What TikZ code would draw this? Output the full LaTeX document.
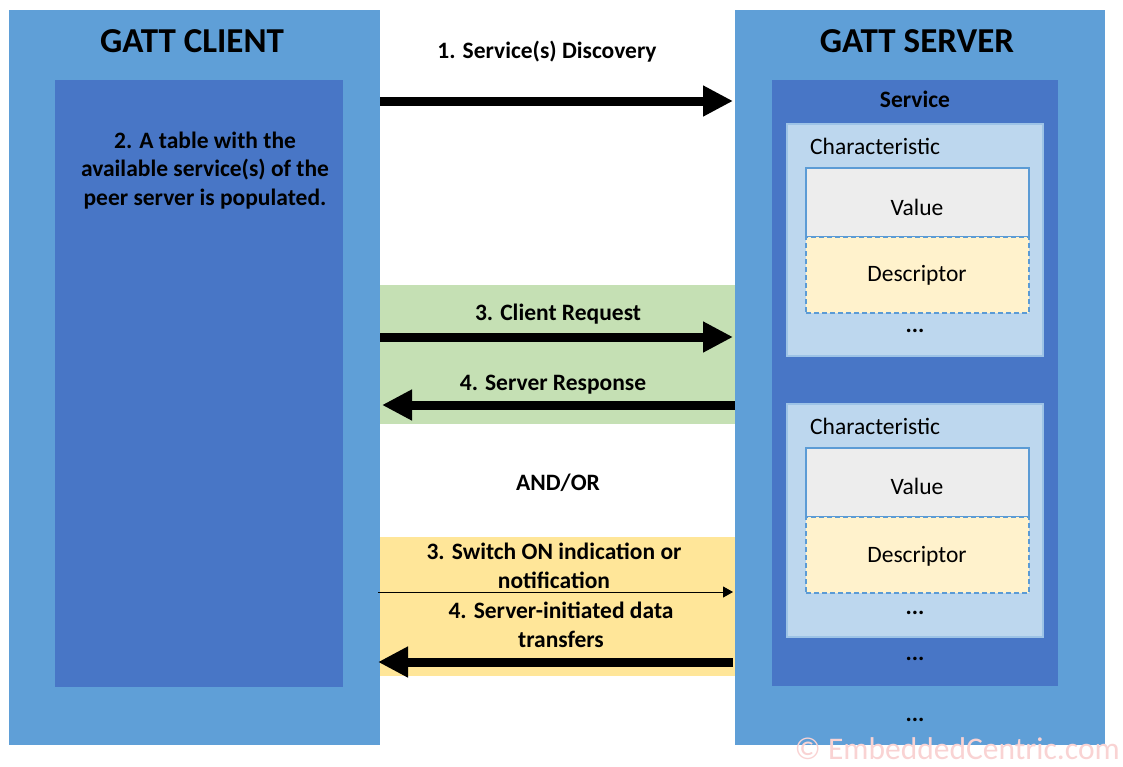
\documentclass[tikz,border=0pt]{standalone}
\usepackage{fontspec}
\setmainfont{Carlito}
\usetikzlibrary{arrows.meta}
\definecolor{outerblue}{HTML}{5F9FD7}
\definecolor{innerblue}{HTML}{4876C6}
\definecolor{charblue}{HTML}{BDD7EE}
\definecolor{charedge}{HTML}{9DC3E6}
\definecolor{valgray}{HTML}{EDEDED}
\definecolor{descyellow}{HTML}{FFF2CC}
\definecolor{edgeblue}{HTML}{5B9BD5}
\definecolor{bandgreen}{HTML}{C5E0B4}
\definecolor{bandyellow}{HTML}{FFE699}
\definecolor{wmpink}{HTML}{F9D3D3}
\tikzset{
  box/.style={anchor=north west, inner sep=0pt, outer sep=0pt},
  outerbox/.style={box, fill=outerblue},
  innerbox/.style={box, fill=innerblue},
  charbox/.style={box, fill=charblue, draw=charedge, line width=1.5pt},
  valbox/.style={box, fill=valgray, draw=edgeblue, line width=1.5pt},
  descbox/.style={box, fill=descyellow, draw=edgeblue, line width=1.5pt, dash pattern=on 5pt off 3pt},
  band/.style={box},
  title/.style={anchor=base, font=\fontsize{35}{42}\selectfont\bfseries},
  lbl/.style={anchor=base, font=\fontsize{23.5}{28.7}\selectfont\bfseries, align=center, inner sep=0pt},
  txt/.style={anchor=base, font=\fontsize{23.5}{28.7}\selectfont, inner sep=0pt},
  bigarrow/.style={line width=9pt, -{Triangle[length=30pt,width=29pt]}},
  thinarrow/.style={line width=1pt, -{Triangle[length=10pt,width=11pt]}},
}
\begin{document}
\begin{tikzpicture}[x=1pt,y=-1pt]
\useasboundingbox (0,0) rectangle (1123,766);
% bands
\node[band, fill=bandgreen, minimum width=355pt, minimum height=139pt] (gband) at (380,285) {};
\node[band, fill=bandyellow, minimum width=355pt, minimum height=139pt] (yband) at (380,537) {};
% client
\node[outerbox, minimum width=371pt, minimum height=735pt] (cl) at (9,10) {};
\node[innerbox, minimum width=288pt, minimum height=607pt] (clin) at (55,80) {};
\node[title] (cltitle) at (192,52) {GATT CLIENT};
\node[lbl] (cltext) at (205,205.5) {2. A table with the\\available service(s) of the\\peer server is populated.};
% server
\node[outerbox, minimum width=370pt, minimum height=735pt] (sv) at (735,10) {};
\node[innerbox, minimum width=286pt, minimum height=606pt] (svc) at (772,80) {};
\node[title] (svtitle) at (917,52) {GATT SERVER};
\node[lbl] (svclbl) at (915,107) {Service};
% characteristic 1
\node[charbox, minimum width=256pt, minimum height=232pt] (ch1) at (787,124) {};
\node[txt, anchor=base west] (ch1lbl) at (810,154.5) {Characteristic};
\node[valbox, minimum width=223pt, minimum height=69pt] (val1) at (806,168) {};
\node[descbox, minimum width=223pt, minimum height=76pt] (desc1) at (806,237) {};
\node[txt] (val1lbl) at (917,215) {Value};
\node[txt] (desc1lbl) at (917,281.5) {Descriptor};
\node[lbl] (dots1) at (915,332) {...};
% characteristic 2
\node[charbox, minimum width=256pt, minimum height=233pt] (ch2) at (787,404) {};
\node[txt, anchor=base west] (ch2lbl) at (810,434) {Characteristic};
\node[valbox, minimum width=223pt, minimum height=69pt] (val2) at (806,448) {};
\node[descbox, minimum width=223pt, minimum height=76pt] (desc2) at (806,517) {};
\node[txt] (val2lbl) at (917,494) {Value};
\node[txt] (desc2lbl) at (917,562.5) {Descriptor};
\node[lbl] (dots2) at (915,614) {...};
\node[lbl] (dots3) at (915,660) {...};
\node[lbl] (dots4) at (915,721) {...};
% arrows and labels
\node[lbl] (l1) at (547,58) {1. Service(s) Discovery};
\draw[bigarrow] (cl.east |- 0,101) -- ([xshift=-2pt]sv.west |- 0,101);
\node[lbl] (l3) at (558,320.5) {3. Client Request};
\draw[bigarrow] (cl.east |- 0,337) -- ([xshift=-2pt]sv.west |- 0,337);
\node[lbl] (l4) at (553,390) {4. Server Response};
\draw[bigarrow] (sv.west |- 0,405) -- ([xshift=2pt]cl.east |- 0,405);
\node[lbl] (andor) at (558,490) {AND/OR};
\node[lbl] (l3b) at (554,588) {3. Switch ON indication or\\notification};
\draw[thinarrow] ([xshift=-2pt]cl.east |- 0,592) -- ([xshift=-2pt]sv.west |- 0,592);
\node[lbl] (l4b) at (561,647) {4. Server-initiated data\\transfers};
\draw[bigarrow] ([xshift=-2pt]sv.west |- 0,662) -- ([xshift=-2pt]cl.east |- 0,662);
% watermark
\node[anchor=base east, inner sep=0pt, text=wmpink, font=\fontsize{31.5}{38}\selectfont] (wm) at (1120,759) {© EmbeddedCentric.com};
\end{tikzpicture}
\end{document}
